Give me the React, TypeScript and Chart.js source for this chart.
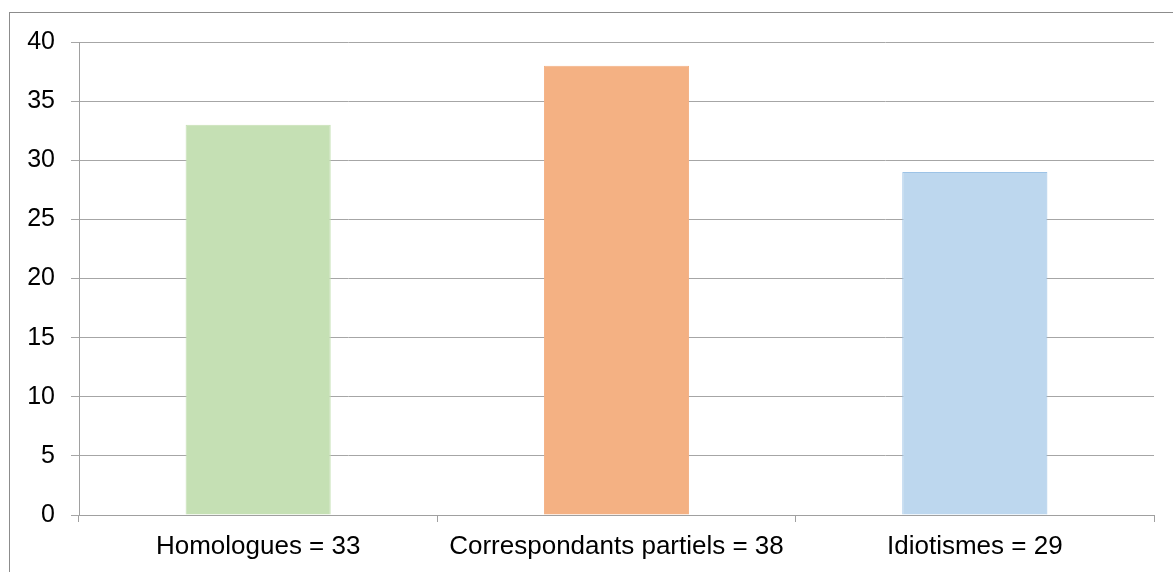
import React, { useEffect, useRef } from "react";
import { Chart, registerables } from "chart.js";

Chart.register(...registerables);

const categories = ["Homologues = 33", "Correspondants partiels = 38", "Idiotismes = 29"];
const values = [33, 38, 29];
const barColors = ["#C5E0B4", "#F4B183", "#BDD7EE"];
const barBorders = ["#C5E0B4", "#F4B183", "#9DC3E6"];
const yMin = 0;
const yMax = 40;
const yStep = 5;

export default function App() {
  const ref = useRef<HTMLCanvasElement | null>(null);

  useEffect(() => {
    if (!ref.current) return;
    const fontX = { family: "'Liberation Sans', Arial, sans-serif", size: 26 };
    const fontY = { family: "'Liberation Sans', Arial, sans-serif", size: 25 };
    const chart = new Chart(ref.current, {
      type: "bar",
      data: {
        labels: categories,
        datasets: [
          {
            data: values,
            backgroundColor: barColors,
            borderColor: barBorders,
            borderWidth: 1,
            barPercentage: 0.405,
            categoryPercentage: 1,
          },
        ],
      },
      options: {
        animation: false,
        responsive: false,
        maintainAspectRatio: false,
        devicePixelRatio: 1,
        layout: { padding: { left: 0, right: 19, top: 42, bottom: 0 } },
        plugins: { legend: { display: false }, tooltip: { enabled: false } },
        scales: {
          x: {
            offset: true,
            grid: {
              display: true,
              offset: true,
              drawOnChartArea: false,
              drawTicks: true,
              tickLength: 7,
              color: "#A0A0A0",
              lineWidth: 1,
            },
            border: { display: true, color: "#A0A0A0", width: 1 },
            ticks: { color: "#000", font: fontX, padding: 9, maxRotation: 0 },
            afterFit: (s: any) => {
              s.height = 57;
            },
          },
          y: {
            min: yMin,
            max: yMax,
            ticks: { stepSize: yStep, color: "#000", font: fontY, padding: 16 },
            grid: { color: "#A6A6A6", lineWidth: 1, tickLength: 8, drawTicks: true },
            border: { display: true, color: "#A0A0A0", width: 1 },
            afterFit: (s: any) => {
              s.width = 79;
            },
          },
        },
      },
    });
    return () => chart.destroy();
  }, []);

  return (
    <div style={{ position: "fixed", left: 0, top: 0, width: 1173, height: 572, background: "#fff", overflow: "hidden" }}>
      <div
        style={{
          position: "absolute",
          left: 9,
          top: 12,
          width: 1200,
          height: 600,
          border: "1px solid #8C8C8C",
          boxSizing: "border-box",
        }}
      />
      <canvas ref={ref} width={1173} height={572} style={{ position: "absolute", left: 0, top: 0, width: 1173, height: 572 }} />
    </div>
  );
}
